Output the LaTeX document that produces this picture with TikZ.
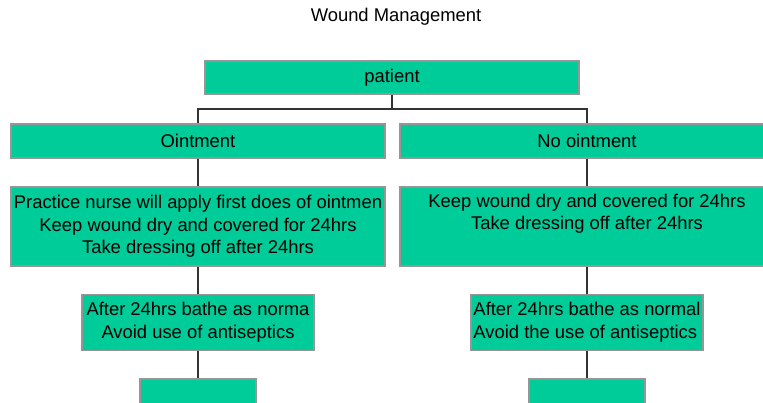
\documentclass[tikz,border=0pt]{standalone}
\usepackage{fontspec}
\setmainfont{Liberation Sans}
\usepackage{tikz}
\usetikzlibrary{positioning, calc}
\definecolor{boxgreen}{RGB}{0,204,153}
\definecolor{boxedge}{RGB}{150,150,150}

\begin{document}
\begin{tikzpicture}[x=1pt, y=-1pt]
    \tikzset{
        step box/.style={
                draw=boxedge, line width=1.2pt, fill=boxgreen, inner sep=0pt,
                font=\fontsize{18.4}{22.6}\selectfont, text=black, align=center
            },
        wide box/.style={step box, minimum width=374pt},
        note box/.style={step box, minimum width=232pt, minimum height=56pt},
        end box/.style={step box, minimum width=116pt, minimum height=40pt},
        flow line/.style={draw=black!80, line width=1.2pt},
        chart title/.style={font=\fontsize{18.4}{22.6}\selectfont, text=black}
    }
    \useasboundingbox (0,0) rectangle (763,403);
    \clip (0,0) rectangle (763,403);

    \node[chart title] (title) at (396,17) {Wound Management};

    \node[wide box, minimum height=33pt] (patient) at (392,77.5) {patient};
    \node[wide box, minimum height=34pt] (oint) at (198,141) {Ointment};
    \node[wide box, minimum height=34pt] (nooint) at (587,141) {No ointment};

    \node[wide box, minimum height=79pt] (nurse) at (198,226.5)
        {Practice nurse will apply first does of ointmen\\
         Keep wound dry and covered for 24hrs\\
         Take dressing off after 24hrs};
    \node[wide box, minimum height=79pt] (keepdry) at (587,226.5)
        {Keep wound dry and covered for 24hrs\\
         Take dressing off after 24hrs\\ \strut};

    \node[note box] (bathe1) at (198,322.5)
        {After 24hrs bathe as norma\\Avoid use of antiseptics};
    \node[note box, align=left] (bathe2) at (587,322.5)
        {After 24hrs bathe as normal\\Avoid the use of antiseptics};

    \node[end box] (end1) at (198,399) {};
    \node[end box] (end2) at (587,399) {};

    % tree lines
    \coordinate (split) at (392,109);
    \draw[flow line] (patient.south) -- (split) -| (oint.north);
    \draw[flow line] (split) -| (nooint.north);
    \draw[flow line] (oint.south) -- (nurse.north);
    \draw[flow line] (nurse.south) -- (bathe1.north);
    \draw[flow line] (bathe1.south) -- (end1.north);
    \draw[flow line] (nooint.south) -- (keepdry.north);
    \draw[flow line] (keepdry.south) -- (bathe2.north);
    \draw[flow line] (bathe2.south) -- (end2.north);
\end{tikzpicture}
\end{document}
